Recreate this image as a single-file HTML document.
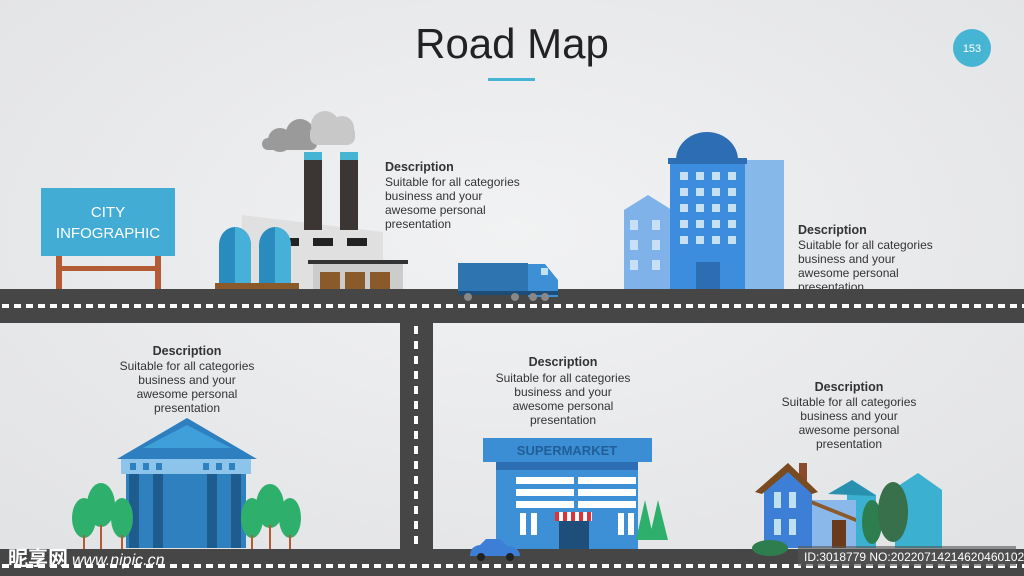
<!DOCTYPE html>
<html><head><style>
body{margin:0;width:1024px;height:576px;overflow:hidden;background:#e9eaeb;font-family:"Liberation Sans",sans-serif}
svg{display:block}
.t{font-family:"Liberation Sans",sans-serif;font-size:12px;fill:#333}
.h{font-weight:bold;font-size:12.5px}
</style></head><body>
<svg width="1024" height="576" viewBox="0 0 1024 576">
<defs><radialGradient id="bg" cx="50%" cy="40%" r="70%"><stop offset="0" stop-color="#f1f2f3"/><stop offset="1" stop-color="#e2e3e5"/></radialGradient></defs>
<rect width="1024" height="576" fill="url(#bg)"/>
<text x="512" y="58" text-anchor="middle" font-size="42" fill="#222" font-family="Liberation Sans">Road Map</text>
<rect x="488" y="78" width="47" height="3" fill="#45b5d3"/>
<circle cx="972" cy="48" r="19" fill="#45b5d3"/>
<text x="972" y="52" text-anchor="middle" font-size="11" fill="#fff">153</text>

<!-- sign -->
<rect x="56" y="255" width="6" height="36" fill="#b25b35"/><rect x="155" y="255" width="6" height="36" fill="#b25b35"/>
<rect x="56" y="266" width="105" height="5" fill="#b25b35"/>
<rect x="41" y="188" width="134" height="68" fill="#43acd4"/>
<text x="108" y="217" text-anchor="middle" font-size="15" fill="#fff">CITY</text>
<text x="108" y="238" text-anchor="middle" font-size="15" fill="#fff">INFOGRAPHIC</text>

<!-- factory -->
<circle cx="280" cy="140" r="12" fill="#9a9a9a"/><circle cx="300" cy="133" r="14" fill="#9a9a9a"/><rect x="262" y="138" width="55" height="12" rx="6" fill="#9a9a9a"/>
<circle cx="325" cy="125" r="14" fill="#c8c8c8"/><circle cx="342" cy="128" r="12" fill="#c8c8c8"/><rect x="310" y="125" width="45" height="20" rx="8" fill="#c8c8c8"/>
<polygon points="242,215 383,232 383,290 242,290" fill="#e0e0e0"/>
<rect x="304" y="152" width="18" height="78" fill="#3b3533"/><rect x="340" y="152" width="18" height="78" fill="#3b3533"/>
<rect x="304" y="152" width="18" height="8" fill="#45b5d3"/><rect x="340" y="152" width="18" height="8" fill="#45b5d3"/>
<rect x="279" y="238" width="20" height="8" fill="#222"/><rect x="313" y="238" width="20" height="8" fill="#222"/>
<rect x="347" y="238" width="20" height="8" fill="#222"/>
<rect x="308" y="260" width="100" height="4" fill="#333"/>
<rect x="313" y="264" width="90" height="26" fill="#ccc"/>
<rect x="320" y="272" width="20" height="18" fill="#8b5a2b"/><rect x="345" y="272" width="20" height="18" fill="#8b5a2b"/><rect x="370" y="272" width="20" height="18" fill="#8b5a2b"/>
<path d="M219,283 V245 a16,18 0 0 1 32,0 V283Z" fill="#2a8bbf"/><path d="M235,283 V227 a16,18 0 0 1 16,18 V283Z" fill="#47b0d8"/>
<path d="M259,283 V245 a16,18 0 0 1 32,0 V283Z" fill="#2a8bbf"/><path d="M275,283 V227 a16,18 0 0 1 16,18 V283Z" fill="#47b0d8"/>
<rect x="215" y="283" width="84" height="7" fill="#8b5a2b"/>
<text class="t h" x="385" y="171">Description</text>
<text class="t" x="385" y="186">Suitable for all categories</text>
<text class="t" x="385" y="200">business and your</text>
<text class="t" x="385" y="214">awesome personal</text>
<text class="t" x="385" y="228">presentation</text>

<!-- buildings -->
<polygon points="624,210 648,195 672,210 672,290 624,290" fill="#7fb2e8"/>
<rect x="742" y="160" width="42" height="130" fill="#86b8ea"/>
<rect x="670" y="160" width="75" height="130" fill="#3c8dde"/>
<path d="M676,160 a31,28 0 0 1 62,0Z" fill="#2c6db4"/>
<rect x="668" y="158" width="79" height="6" fill="#2c6db4"/>
<g fill="#c7e0f8">
<rect x="680" y="172" width="8" height="8"/><rect x="696" y="172" width="8" height="8"/><rect x="712" y="172" width="8" height="8"/><rect x="728" y="172" width="8" height="8"/>
<rect x="680" y="188" width="8" height="8"/><rect x="696" y="188" width="8" height="8"/><rect x="712" y="188" width="8" height="8"/><rect x="728" y="188" width="8" height="8"/>
<rect x="680" y="204" width="8" height="8"/><rect x="696" y="204" width="8" height="8"/><rect x="712" y="204" width="8" height="8"/><rect x="728" y="204" width="8" height="8"/>
<rect x="680" y="220" width="8" height="8"/><rect x="696" y="220" width="8" height="8"/><rect x="712" y="220" width="8" height="8"/><rect x="728" y="220" width="8" height="8"/>
<rect x="680" y="236" width="8" height="8"/><rect x="696" y="236" width="8" height="8"/><rect x="712" y="236" width="8" height="8"/><rect x="728" y="236" width="8" height="8"/>
<rect x="630" y="220" width="8" height="10"/><rect x="652" y="220" width="8" height="10"/><rect x="630" y="240" width="8" height="10"/><rect x="652" y="240" width="8" height="10"/><rect x="630" y="260" width="8" height="10"/><rect x="652" y="260" width="8" height="10"/>
</g>
<rect x="696" y="262" width="24" height="28" fill="#2c6db4"/>
<text class="t h" x="798" y="234">Description</text>
<text class="t" x="798" y="249">Suitable for all categories</text>
<text class="t" x="798" y="263">business and your</text>
<text class="t" x="798" y="277">awesome personal</text>
<text class="t" x="798" y="291">presentation</text>

<!-- roads -->
<rect x="0" y="289" width="1024" height="34" fill="#464646"/>
<line x1="2" y1="306" x2="1024" y2="306" stroke="#fff" stroke-width="4" stroke-dasharray="7,5"/>
<rect x="400" y="323" width="33" height="228" fill="#464646"/>
<line x1="416" y1="326" x2="416" y2="549" stroke="#fff" stroke-width="4" stroke-dasharray="8,7"/>
<rect x="0" y="549" width="1024" height="27" fill="#464646"/>
<line x1="2" y1="566" x2="1024" y2="566" stroke="#fff" stroke-width="4" stroke-dasharray="7,5"/>

<!-- truck -->
<rect x="458" y="263" width="70" height="30" fill="#2e74b0"/>
<polygon points="528,264 545,264 558,280 558,297 528,297" fill="#3d8fd6"/>
<rect x="541" y="268" width="7" height="7" fill="#bfe3f2"/>
<rect x="458" y="291" width="100" height="4" fill="#1c4c78"/>
<circle cx="468" cy="297" r="4" fill="#888"/><circle cx="515" cy="297" r="4" fill="#888"/><circle cx="533" cy="297" r="4" fill="#888"/><circle cx="545" cy="297" r="4" fill="#888"/>

<!-- bank -->
<g text-anchor="middle">
<text class="t h" x="187" y="355">Description</text>
<text class="t" x="187" y="370">Suitable for all categories</text>
<text class="t" x="187" y="384">business and your</text>
<text class="t" x="187" y="398">awesome personal</text>
<text class="t" x="187" y="412">presentation</text>
</g>
<polygon points="117,459 187,418 257,459" fill="#2d7fbf"/>
<polygon points="143,448 187,425 231,448" fill="#3f9fd8"/>
<rect x="121" y="459" width="130" height="15" fill="#8dc4ec"/>
<rect x="126" y="474" width="120" height="74" fill="#2e80bf"/>
<g fill="#1d5c8c"><rect x="129" y="474" width="10" height="74"/><rect x="153" y="474" width="10" height="74"/><rect x="207" y="474" width="10" height="74"/><rect x="231" y="474" width="10" height="74"/></g>
<g fill="#2e80bf"><rect x="130" y="463" width="6" height="7"/><rect x="143" y="463" width="6" height="7"/><rect x="156" y="463" width="6" height="7"/><rect x="203" y="463" width="6" height="7"/><rect x="216" y="463" width="6" height="7"/><rect x="229" y="463" width="6" height="7"/></g>
<g fill="#2eb06c"><ellipse cx="84" cy="518" rx="12" ry="20"/><ellipse cx="101" cy="505" rx="14" ry="22"/><ellipse cx="122" cy="518" rx="11" ry="20"/>
<ellipse cx="252" cy="518" rx="11" ry="20"/><ellipse cx="270" cy="506" rx="14" ry="22"/><ellipse cx="290" cy="518" rx="11" ry="20"/></g>
<g fill="#b25b35"><rect x="83" y="535" width="2" height="14"/><rect x="100" y="525" width="2" height="24"/><rect x="121" y="535" width="2" height="14"/><rect x="251" y="535" width="2" height="14"/><rect x="269" y="525" width="2" height="24"/><rect x="289" y="535" width="2" height="14"/></g>

<!-- supermarket -->
<g text-anchor="middle">
<text class="t h" x="563" y="366">Description</text>
<text class="t" x="563" y="382">Suitable for all categories</text>
<text class="t" x="563" y="396">business and your</text>
<text class="t" x="563" y="410">awesome personal</text>
<text class="t" x="563" y="424">presentation</text>
</g>
<rect x="496" y="460" width="142" height="89" fill="#3d8fd6"/>
<rect x="496" y="460" width="142" height="10" fill="#2c6db4"/>
<rect x="483" y="438" width="169" height="24" fill="#3b8ed3"/>
<text x="567" y="455" text-anchor="middle" font-size="13" font-weight="bold" fill="#215e99">SUPERMARKET</text>
<g fill="#fff"><rect x="516" y="477" width="58" height="7"/><rect x="578" y="477" width="58" height="7"/><rect x="516" y="489" width="58" height="7"/><rect x="578" y="489" width="58" height="7"/><rect x="516" y="501" width="58" height="7"/><rect x="578" y="501" width="58" height="7"/>
<rect x="520" y="513" width="6" height="22"/><rect x="531" y="513" width="6" height="22"/><rect x="618" y="513" width="6" height="22"/><rect x="628" y="513" width="6" height="22"/></g>
<rect x="559" y="520" width="30" height="29" fill="#1d4f7a"/>
<rect x="555" y="512" width="37" height="9" fill="#fff"/>
<g fill="#e0303a"><rect x="555" y="512" width="4" height="9"/><rect x="563" y="512" width="4" height="9"/><rect x="571" y="512" width="4" height="9"/><rect x="579" y="512" width="4" height="9"/><rect x="587" y="512" width="4" height="9"/></g>
<polygon points="645,500 636,540 654,540" fill="#2eb06c"/><polygon points="658,500 649,540 668,540" fill="#2eb06c"/>
<path d="M470,556 q0,-10 10,-11 l6,-6 h14 l7,7 q13,1 13,10Z" fill="#3d7fd6"/>
<circle cx="481" cy="557" r="4" fill="#222"/><circle cx="510" cy="557" r="4" fill="#222"/>

<!-- houses -->
<g text-anchor="middle">
<text class="t h" x="849" y="391">Description</text>
<text class="t" x="849" y="406">Suitable for all categories</text>
<text class="t" x="849" y="420">business and your</text>
<text class="t" x="849" y="434">awesome personal</text>
<text class="t" x="849" y="448">presentation</text>
</g>
<polygon points="895,488 918,473 942,490 942,548 895,548" fill="#3bb0d0"/>
<polygon points="847,495 852,480 876,495 876,548 847,548" fill="#3bb0d0"/>
<polygon points="828,494 852,480 876,496" fill="#2a90b0"/>
<rect x="811" y="500" width="45" height="48" fill="#8ab8ea"/>
<polygon points="811,500 856,518 856,522 811,504" fill="#8b5a2b"/>
<rect x="832" y="520" width="14" height="28" fill="#6b3a1b"/>
<rect x="799" y="463" width="8" height="18" fill="#8b4a2b"/>
<polygon points="788,468 812,490 812,548 764,548 764,490" fill="#3d7fd6"/>
<polygon points="755,492 788,463 818,492 812,494 788,472 762,494" fill="#7a4a20"/>
<g fill="#bfe0f0"><rect x="774" y="492" width="7" height="16"/><rect x="789" y="492" width="7" height="16"/><rect x="774" y="519" width="7" height="16"/><rect x="789" y="519" width="7" height="16"/></g>
<ellipse cx="872" cy="522" rx="10" ry="22" fill="#2e7d4f"/><ellipse cx="893" cy="512" rx="15" ry="30" fill="#37704a"/>
<ellipse cx="770" cy="548" rx="18" ry="8" fill="#2e7d4f"/>

<!-- watermark -->
<text x="8" y="565" font-size="20" font-weight="bold" fill="#fff" font-family="'Liberation Sans','Noto Sans CJK SC',sans-serif">昵享网</text>
<text x="72" y="565" font-size="16" fill="#fff" font-style="italic">www.nipic.cn</text>
<rect x="798" y="546" width="218" height="20" fill="#555" opacity="0.6"/>
<text x="804" y="561" font-size="12" fill="#fff">ID:3018779 NO:20220714214620460102</text>
</svg>
</body></html>
